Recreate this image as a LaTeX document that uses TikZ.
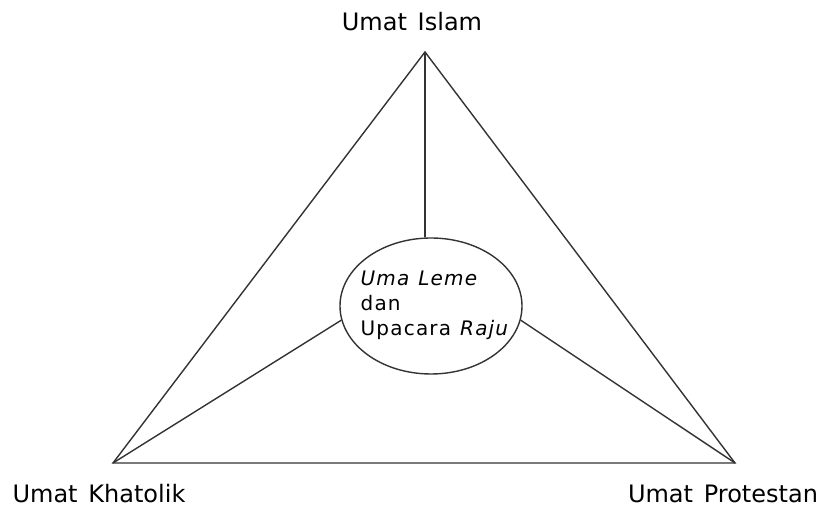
\documentclass[tikz,border=0pt]{standalone}
\usepackage{fontspec}
\setmainfont{DejaVu Sans}
\newfontfamily\hurufpusat[LetterSpace=6]{DejaVu Sans}
\usetikzlibrary{positioning, shapes.geometric}

\newcommand\spasilebar{\spaceskip=0.45em\relax}

\begin{document}
\begin{tikzpicture}[
            x=0.5pt, y=-0.5pt,
            % Estilos de garis, label dan elips
            garis/.style={draw=black!80, line width=0.7pt},
            umat/.style={font=\fontsize{12}{13}\selectfont\spasilebar, inner sep=0pt},
            pusat/.style={ellipse, draw=black!80, line width=0.7pt, minimum width=91pt, minimum height=68pt, inner sep=0pt},
            teks/.style={align=left, inner sep=0pt, font=\hurufpusat\fontsize{10}{12.5}\selectfont\spasilebar}
            ]
            \useasboundingbox (0,0) rectangle (825,506);

            % Titik sudut segitiga
            \coordinate (islam) at (425,52);
            \coordinate (khatolik) at (113,463);
            \coordinate (protestan) at (735,463);

            % Nodos
            \node (pusat) [pusat] at (431,306) {};
            \node (tekspusat) [teks] at (435,305) {\textit{Uma Leme}\\dan\\Upacara \textit{Raju}};
            \node (lblislam) [umat] at (412,22) {Umat Islam};
            \node (lblkhatolik) [umat] at (99,494) {Umat Khatolik};
            \node (lblprotestan) [umat] at (723,494) {Umat Protestan};

            % Segitiga
            \draw [garis] (islam) -- (khatolik) -- (protestan) -- cycle;

            % Conexiones ke elips
            \draw [garis] (islam) -- (islam |- pusat.north);
            \draw [garis] (khatolik) -- (pusat.189);
            \draw [garis] (protestan) -- (pusat.-9);

        \end{tikzpicture}
\end{document}
